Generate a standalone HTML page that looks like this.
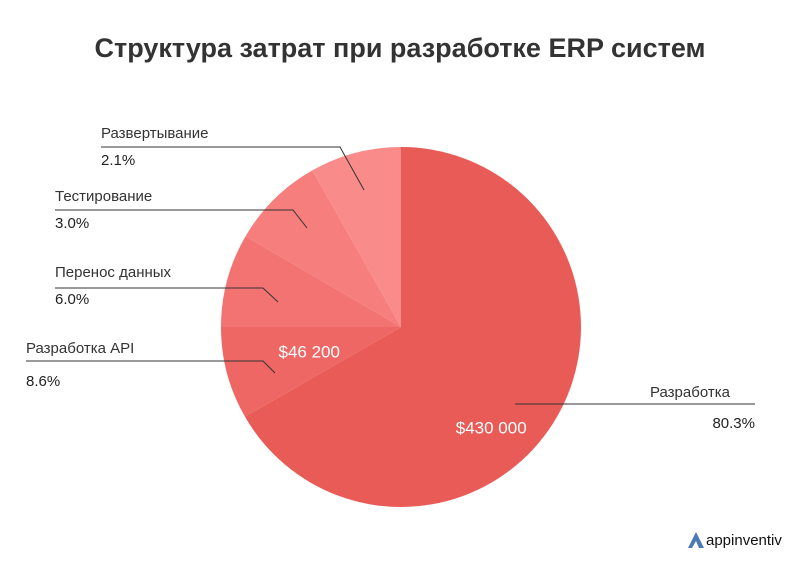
<!DOCTYPE html>
<html><head><meta charset="utf-8"><style>
body{margin:0;background:#fff;font-family:"Liberation Sans",sans-serif}
#wrap{position:relative;width:801px;height:579px;overflow:hidden}
</style></head><body>
<div id="wrap">
<svg id="chart" width="801" height="579"></svg>
</div>
<script>
const categories = ["Разработка","Разработка API","Перенос данных","Тестирование","Развертывание"];
const percentLabels = ["80.3%","8.6%","6.0%","3.0%","2.1%"];
// share of circle as drawn in the picture (percent)
const sliceShares = [66.7, 8.3, 8.4, 8.4, 8.2];
const valueLabels = ["$430 000","$46 200","","",""];
const colors = ["#e95b57","#ee6764","#f27372","#f67e7d","#f98b8a"];
const NS="http://www.w3.org/2000/svg";
const svg=document.getElementById('chart');
function mk(t,a){const e=document.createElementNS(NS,t);for(const k in a)e.setAttribute(k,a[k]);svg.appendChild(e);return e;}
const cx=401,cy=327,r=180;
const title=mk('text',{x:400,y:57,'text-anchor':'middle','font-size':27,'font-weight':'bold',fill:'#333'});


title.textContent='Структура затрат при разработке ERP систем';
const total=sliceShares.reduce((a,b)=>a+b,0);
function pt(deg,rad){const a=deg*Math.PI/180;return [cx+rad*Math.sin(a),cy-rad*Math.cos(a)];}
let start=0;const mids=[];
sliceShares.forEach((v,i)=>{
 const sweep=v/total*360,end=start+sweep;
 const [x1,y1]=pt(start,r),[x2,y2]=pt(end,r);
 const p=mk('path',{d:`M${cx},${cy}L${x1},${y1}A${r},${r} 0 ${sweep>180?1:0} 1 ${x2},${y2}Z`,fill:colors[i]});
 
 
 mids.push(start+sweep/2);start=end;
});
// value labels
const vRad=[135,95];
valueLabels.forEach((t,i)=>{if(!t)return;
 const m=mids[i];const [x,y]=pt(m+(i==0?18:0),vRad[i]);
 const e=mk('text',{x:x,y:y+6,'text-anchor':'middle','font-size':17,fill:'#fff'});
 
 
 e.textContent=t;});
// leader lines and labels
const layout=[
 {tx:650,ty:397,px:755,py:428,ly:404,lx0:515,lx1:755,anchor:'start',pAnchor:'end',ex:515,ey:404},
 {tx:26,ty:353,px:26,py:386,ly:361,lx0:26,lx1:263,anchor:'start',pAnchor:'start',ex:275,ey:373},
 {tx:55,ty:277,px:55,py:304,ly:288,lx0:55,lx1:263,anchor:'start',pAnchor:'start',ex:278,ey:302},
 {tx:55,ty:201,px:55,py:228,ly:210,lx0:55,lx1:293,anchor:'start',pAnchor:'start',ex:307,ey:228},
 {tx:101,ty:138,px:101,py:165,ly:147,lx0:101,lx1:340,anchor:'start',pAnchor:'start',ex:364,ey:190}];
layout.forEach((L,i)=>{
 const d=i==0?`M${L.lx0},${L.ly}L${L.lx1},${L.ly}`:`M${L.lx0},${L.ly}L${L.lx1},${L.ly}L${L.ex},${L.ey}`;
 const l=mk('path',{d:d,stroke:'#333',fill:'none','stroke-width':1});
 
 
 const t=mk('text',{x:L.tx,y:L.ty,'text-anchor':L.anchor,'font-size':15,fill:'#333'});
 
 
 t.textContent=categories[i];
 const p=mk('text',{x:L.px,y:L.py,'text-anchor':L.pAnchor,'font-size':15,fill:'#222'});
 
 
 p.textContent=percentLabels[i];
});
const logo=mk('path',{d:'M688,548 L696,532 L704,548 L699,548 L696,541 L692,548 Z',fill:'#4a7ab5'});


const lt=mk('text',{x:706,y:545,'font-size':15,fill:'#111'});


lt.textContent='appinventiv';
</script>
</body></html>
